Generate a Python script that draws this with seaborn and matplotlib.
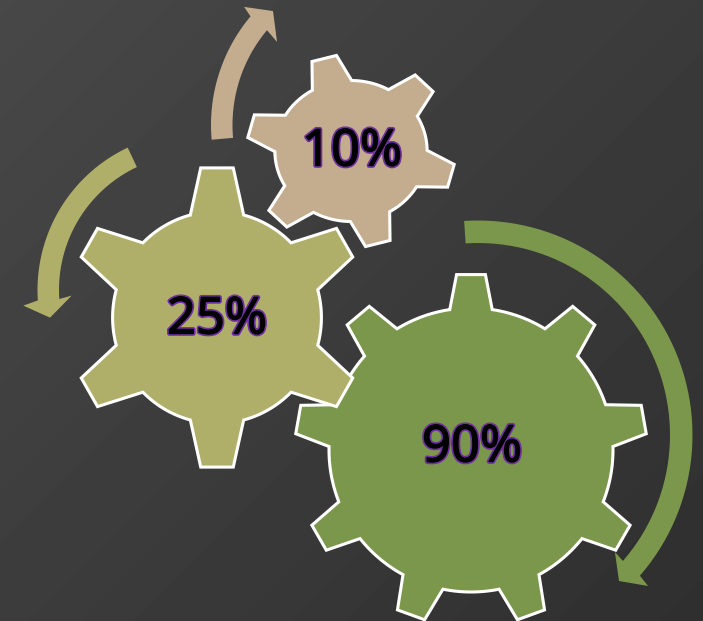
import numpy as np
import pandas as pd
import matplotlib
matplotlib.use("Agg")
import matplotlib.pyplot as plt
import matplotlib.patheffects as pe
import seaborn as sns

# Values shown on the gears, back to front
names = ["large", "medium", "small"]
percents = [90, 25, 10]
gear_hex = ["#7B974C", "#B0AF6A", "#C4AD8E"]

# Gear geometry in canvas pixels
gear_cx = [471, 217, 351]
gear_cy = [450, 317.5, 151]
tip_radius = [176, 150.5, 96.5]
root_radius = [142, 106, 70.5]
tooth_count = [9, 6, 6]
first_tooth = [90, 90, 45]
tip_half = [4.7, 6.3, 7.0]
base_half = [8.6, 14.8, 15.5]
x_stretch = [1.0, 0.985, 1.08]
label_x = [472, 217, 352]
label_y = [448, 320, 152]

# Curved arrows: centre, outer and inner radii, sweep, head (outer wing, tip, inner wing)
arrows = [
    dict(c=(478, 435), outer=214.5, inner=192, sweep=(93.7, -41),
         head=((227.4, -41.6), (203, -46), (180, -40.5)), color=0),
    dict(c=(195, 290), outer=157.5, inner=136, sweep=(115.3, 183.8),
         head=((172.4, 185.2), (147.6, 190.8), (123.4, 182.6)), color=1),
    dict(c=(380, 125), outer=169, inner=147.5, sweep=(185, 140),
         head=((180, 139), (156.3, 133.2), (132.3, 141.1)), color=2),
]

sns.set_theme(style="white")
plt.rcParams["font.family"] = ["Noto Sans", "DejaVu Sans"]
palette = sns.color_palette(gear_hex)
table = pd.DataFrame({"gear": names, "percent": percents, "x": label_x, "y": label_y})

W, H = 703, 621
fig = plt.figure(figsize=(W / 100, H / 100), dpi=100)
ax = fig.add_axes([0, 0, 1, 1])
ax.set_xlim(0, W)
ax.set_ylim(H, 0)
ax.axis("off")

# Dark backdrop fading toward the lower right corner
yy, xx = np.mgrid[0:H, 0:W]
shade = (72 - 25 * (xx + yy) / (W + H)) / 255
ax.imshow(shade, cmap="gray", vmin=0, vmax=1, extent=(0, W, H, 0), aspect="auto",
          interpolation="bilinear", zorder=0)


def polar(cx, cy, rx, ry, deg):
    t = np.radians(deg)
    return cx + rx * np.cos(t), cy - ry * np.sin(t)


def gear_outline(cx, cy, tip, root, teeth, start, t_half, b_half, sx):
    step = 360 / teeth
    pts = []
    for i in range(teeth):
        a = start - i * step
        pts.append(polar(cx, cy, root * sx, root, a + b_half))
        pts.append(polar(cx, cy, tip * sx, tip, a + t_half))
        pts.append(polar(cx, cy, tip * sx, tip, a - t_half))
        for v in np.linspace(a - b_half, a - step + b_half, 16):
            pts.append(polar(cx, cy, root * sx, root, v))
    return np.array(pts)


def arrow_outline(spec):
    cx, cy = spec["c"]
    sweep = np.linspace(*spec["sweep"], 60)
    outer = [polar(cx, cy, spec["outer"], spec["outer"], v) for v in sweep]
    inner = [polar(cx, cy, spec["inner"], spec["inner"], v) for v in sweep[::-1]]
    head = [polar(cx, cy, r, r, a) for r, a in spec["head"]]
    return np.array(outer + head + inner)


for spec in arrows:
    ax.fill(*arrow_outline(spec).T, color=palette[spec["color"]], lw=0, zorder=1)

# Purple rim around a slightly thickened black numeral
numeral_effects = [pe.Stroke(linewidth=3.4, foreground="#7030A0"),
                   pe.Stroke(linewidth=1.0, foreground="black"),
                   pe.Normal()]

for i, row in table.iterrows():
    outline = gear_outline(gear_cx[i], gear_cy[i], tip_radius[i], root_radius[i],
                           tooth_count[i], first_tooth[i], tip_half[i], base_half[i],
                           x_stretch[i])
    ax.fill(*outline.T, facecolor=palette[i], edgecolor="white", lw=2.2,
            joinstyle="miter", zorder=2 + i)
    ax.text(row.x, row.y, f"{row.percent}%", ha="center", va="center", fontsize=36.5,
            color="black", zorder=6, path_effects=numeral_effects)

fig.savefig("out.png", dpi=100)
